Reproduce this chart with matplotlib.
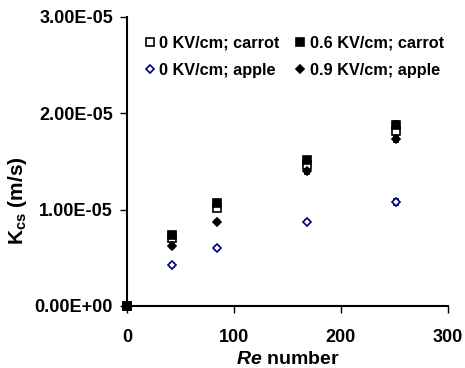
import matplotlib
matplotlib.use("Agg")
import matplotlib.pyplot as plt
from matplotlib.ticker import FuncFormatter
from matplotlib.lines import Line2D

plt.rcParams['font.family'] = ['Liberation Sans', 'DejaVu Sans']
plt.rcParams['font.weight'] = 'bold'
plt.rcParams['mathtext.fontset'] = 'custom'
plt.rcParams['mathtext.rm'] = 'Liberation Sans:bold'
plt.rcParams['mathtext.it'] = 'Liberation Sans:bold:italic'
plt.rcParams['mathtext.bf'] = 'Liberation Sans:bold'

re_vals = [0, 42, 84, 168, 252]
carrot_0 = [0, 0.70e-5, 1.02e-5, 1.46e-5, 1.82e-5]
carrot_06 = [0, 0.74e-5, 1.07e-5, 1.51e-5, 1.88e-5]
apple_0 = [0, 0.42e-5, 0.60e-5, 0.875e-5, 1.08e-5]
apple_09 = [0, 0.62e-5, 0.875e-5, 1.40e-5, 1.73e-5]
err_carrot_0 = [0, 0.03e-5, 0.03e-5, 0.03e-5, 0.04e-5]
err_carrot_06 = [0, 0.03e-5, 0.03e-5, 0.04e-5, 0.04e-5]
err_apple_0 = [0, 0.02e-5, 0.02e-5, 0.02e-5, 0.03e-5]
err_apple_09 = [0, 0.02e-5, 0.02e-5, 0.03e-5, 0.03e-5]
labels = ['0 KV/cm; carrot', '0.6 KV/cm; carrot', '0 KV/cm; apple', '0.9 KV/cm; apple']

fig = plt.figure(figsize=(4.65, 3.68), dpi=100)
ax = fig.add_axes([0.273, 0.169, 0.690, 0.785])

styles = [
    dict(marker='s', mfc='white', mec='black', ms=6, ec='black'),
    dict(marker='s', mfc='black', mec='black', ms=6, ec='black'),
    dict(marker='D', mfc='white', mec='#000080', ms=4.5, ec='#000080'),
    dict(marker='D', mfc='black', mec='black', ms=4.5, ec='black'),
]
series = [(carrot_0, err_carrot_0), (carrot_06, err_carrot_06),
          (apple_0, err_apple_0), (apple_09, err_apple_09)]
handles = []
for (vals, errs), st, lab in zip(series, styles, labels):
    cont = ax.errorbar(re_vals, vals, yerr=errs, fmt=st['marker'], mfc=st['mfc'], mec=st['mec'],
                       mew=1.2, ms=st['ms'], ecolor=st['ec'], elinewidth=0.8, capsize=2.5)
    for art in cont.get_children():
        art.set_clip_on(False)
    handles.append(Line2D([], [], ls='none', marker=st['marker'], mfc=st['mfc'],
                          mec=st['mec'], mew=1.2, ms=st['ms'] - 0.5, label=lab))

ax.set_xlim(0, 300)
ax.set_ylim(0, 3e-5)
ax.set_xticks([0, 100, 200, 300])
ax.set_yticks([0, 1e-5, 2e-5, 3e-5])
ax.yaxis.set_major_formatter(FuncFormatter(lambda v, p: '%.2E' % v))
ax.tick_params(labelsize=13, direction='out', width=1, length=5)
ax.tick_params(axis='x', pad=12)
ax.tick_params(axis='y', pad=5)
for s in ['top', 'right']:
    ax.spines[s].set_visible(False)
for s in ['left', 'bottom']:
    ax.spines[s].set_linewidth(1.5)

ax.set_xlabel(r'$\mathit{Re}$ number', fontsize=14, fontweight='bold', labelpad=3)
ax.set_ylabel(r'K$_{\mathrm{cs}}$ (m/s)', fontsize=15, fontweight='bold')
ax.yaxis.set_label_coords(-0.305, 0.365)

order = [0, 2, 1, 3]
leg = ax.legend([handles[i] for i in order], [labels[i] for i in order],
                loc='upper left', ncol=2, frameon=False, fontsize=11.7,
                handletextpad=0.1, columnspacing=0.75, handlelength=1.0,
                labelspacing=0.75, bbox_to_anchor=(0.0, 0.985))

fig.savefig('out.png', dpi=100)
